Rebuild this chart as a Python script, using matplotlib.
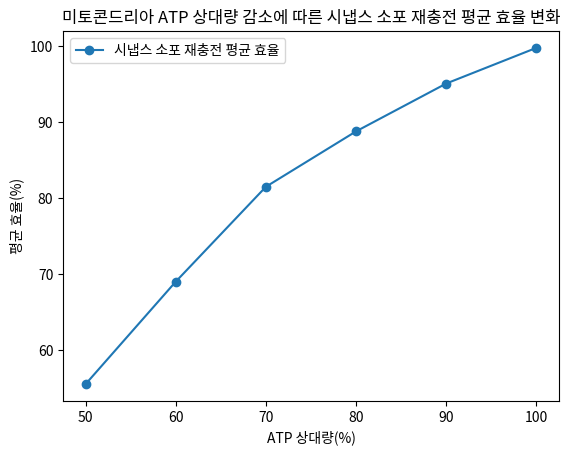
import matplotlib
matplotlib.use("Agg")
from matplotlib import pyplot as plt

plt.rcParams['font.family'] = ['Noto Sans CJK KR', 'DejaVu Sans']
plt.rcParams['axes.unicode_minus'] = False

# ATP relative level (%) and mean recharge efficiency (%)
atp_levels = [50, 60, 70, 80, 90, 100]
efficiency = [55.5, 69.0, 81.5, 88.8, 95.1, 99.8]

fig = plt.figure(figsize=(5.7, 4.55), dpi=100)
ax = fig.add_axes([63 / 570, 1 - 401 / 455, 496 / 570, 370 / 455])

ax.plot(atp_levels, efficiency, marker='o', label='시냅스 소포 재충전 평균 효율')
ax.set_title('미토콘드리아 ATP 상대량 감소에 따른 시냅스 소포 재충전 평균 효율 변화')
ax.set_xlabel('ATP 상대량(%)')
ax.set_ylabel('평균 효율(%)')
ax.legend(loc='upper left')

fig.savefig('out.png', dpi=100)
